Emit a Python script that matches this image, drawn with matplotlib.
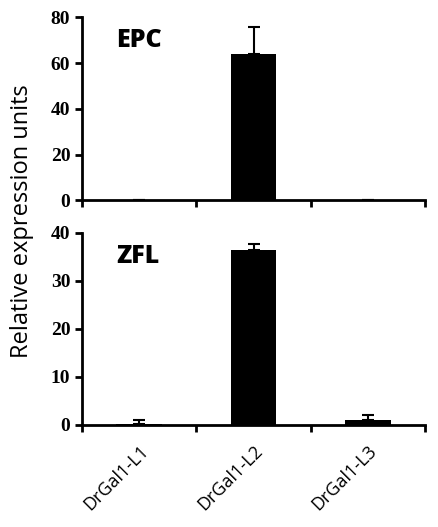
import matplotlib
matplotlib.use("Agg")
import matplotlib.pyplot as plt

categories = ["DrGal1-L1", "DrGal1-L2", "DrGal1-L3"]
epc_vals = [0.0, 64.0, 0.3]
epc_err = [0.0, 12.0, 0.0]
zfl_vals = [0.1, 36.5, 0.9]
zfl_err = [0.8, 1.1, 1.1]

fig = plt.figure(figsize=(4.39, 5.27), dpi=100)
ax1 = fig.add_axes([0.187, 0.620, 0.781, 0.347])
ax2 = fig.add_axes([0.187, 0.194, 0.781, 0.364])

def style(ax, vals, err, ymax, yt, label):
    x = range(len(vals))
    ax.bar(x, vals, width=0.4, color="black")
    ax.errorbar(x, vals, yerr=[[0]*len(err), err], fmt="none", ecolor="black",
                capsize=4, elinewidth=1.5, capthick=1.5)
    ax.set_xlim(-0.5, 2.5)
    ax.set_ylim(0, ymax)
    ax.set_yticks(yt)
    ax.set_yticklabels([str(v) for v in yt], fontfamily="Liberation Serif",
                       fontweight="bold", fontsize=14)
    ax.set_xticks([-0.5, 0.5, 1.5, 2.5])
    ax.set_xticklabels([])
    ax.tick_params(axis="both", direction="out", width=2, length=5)
    for s in ["top", "right"]:
        ax.spines[s].set_visible(False)
    for s in ["left", "bottom"]:
        ax.spines[s].set_linewidth(2)
    ax.text(0.1, 0.94, label, transform=ax.transAxes, fontfamily="Open Sans",
            fontweight="heavy", fontsize=18, va="top")

style(ax1, epc_vals, epc_err, 80, [0, 20, 40, 60, 80], "EPC")
style(ax2, zfl_vals, zfl_err, 40, [0, 10, 20, 30, 40], "ZFL")

ax2.set_xticks([0, 1, 2], minor=True)
ax2.set_xticklabels(categories, minor=True, rotation=45, ha="right",
                    rotation_mode="anchor", fontfamily="Open Sans", fontsize=13)
ax2.tick_params(axis="x", which="minor", length=0, pad=12)

fig.text(0.05, 0.58, "Relative expression units", rotation=90, ha="center",
         va="center", fontfamily="Open Sans", fontsize=17)

fig.savefig("out.png", dpi=100)
